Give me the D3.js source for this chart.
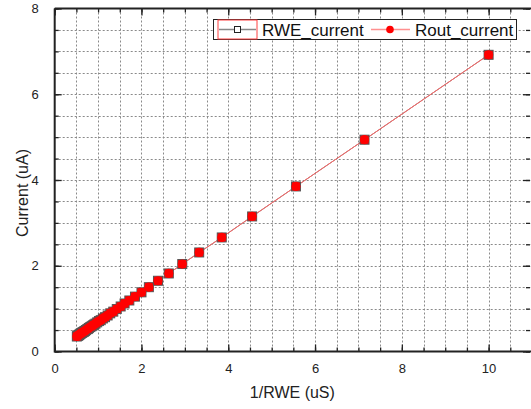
<!DOCTYPE html>
<html><head><meta charset="utf-8">
<script src="https://cdn.jsdelivr.net/npm/d3@7"></script>
<style>html,body{margin:0;padding:0;background:#fff;overflow:hidden}svg{display:block}</style>
</head><body>
<svg id="chart" width="531" height="409"></svg>
<script>
// 1/RWE (uS)
const invRwe = [10.00, 7.14, 5.56, 4.55, 3.85, 3.33, 2.94, 2.63, 2.38, 2.17, 2.00, 1.85, 1.72, 1.61, 1.52, 1.43, 1.35, 1.28, 1.22, 1.16, 1.11, 1.06, 1.02, 0.98, 0.94, 0.91, 0.88, 0.85, 0.82, 0.79, 0.77, 0.75, 0.72, 0.70, 0.68, 0.67, 0.65, 0.63, 0.62, 0.60, 0.59, 0.57, 0.56, 0.55, 0.54, 0.53, 0.52, 0.51];
// RWE_current (uA)
const rweCurrent = [6.92, 4.94, 3.85, 3.15, 2.66, 2.31, 2.04, 1.82, 1.65, 1.50, 1.38, 1.28, 1.19, 1.12, 1.05, 0.99, 0.93, 0.89, 0.84, 0.80, 0.77, 0.73, 0.71, 0.68, 0.65, 0.63, 0.61, 0.59, 0.57, 0.55, 0.53, 0.52, 0.50, 0.48, 0.47, 0.46, 0.45, 0.44, 0.43, 0.42, 0.41, 0.39, 0.39, 0.38, 0.37, 0.37, 0.36, 0.35];
// Rout_current (uA)
const routCurrent = [6.92, 4.94, 3.85, 3.15, 2.66, 2.31, 2.04, 1.82, 1.65, 1.50, 1.38, 1.28, 1.19, 1.12, 1.05, 0.99, 0.93, 0.89, 0.84, 0.80, 0.77, 0.73, 0.71, 0.68, 0.65, 0.63, 0.61, 0.59, 0.57, 0.55, 0.53, 0.52, 0.50, 0.48, 0.47, 0.46, 0.45, 0.44, 0.43, 0.42, 0.41, 0.39, 0.39, 0.38, 0.37, 0.37, 0.36, 0.35];
const xTicks = [0, 2, 4, 6, 8, 10];
const yTicks = [0, 2, 4, 6, 8];
const seriesNames = ["RWE_current", "Rout_current"];

const svg = d3.select("#chart");
const L = 54.7, R = 532, T = 8.5, B = 351.5;
const x = d3.scaleLinear().domain([0, 11]).range([L, R]);
const y = d3.scaleLinear().domain([0, 8]).range([B, T]);
const font = "Arial, 'Liberation Sans', sans-serif";

const minorX = d3.range(0, 11.01, 0.5);
const minorY = d3.range(0, 8.01, 0.5);

// grid
const grid = svg.append("g").attr("stroke", "#8a8a8a").attr("stroke-width", 1).attr("stroke-dasharray", "2,2");
grid.selectAll(".gx").data(minorX.filter(v => v > 0 && v < 11)).enter().append("line")
  .attr("x1", d => Math.round(x(d)) + 0.5).attr("x2", d => Math.round(x(d)) + 0.5).attr("y1", T).attr("y2", B);
grid.selectAll(".gy").data(minorY.filter(v => v > 0 && v < 8)).enter().append("line")
  .attr("y1", d => Math.round(y(d)) + 0.5).attr("y2", d => Math.round(y(d)) + 0.5).attr("x1", L).attr("x2", R);

// axes via d3 axis generators (ticks inward)
const axCol = "#222";
function styleAxis(g) { g.select(".domain").remove(); g.selectAll("line").attr("stroke", axCol).attr("stroke-width", 1.3); }
const bottomMinor = svg.append("g").attr("transform", `translate(0,${B})`)
  .call(d3.axisBottom(x).tickValues(minorX).tickSize(-4).tickFormat("")).call(styleAxis);
const bottomMajor = svg.append("g").attr("transform", `translate(0,${B})`)
  .call(d3.axisBottom(x).tickValues(xTicks).tickSize(-7).tickPadding(12).tickFormat(d3.format("d"))).call(styleAxis);
bottomMajor.selectAll("text").attr("font-family", font).attr("font-size", 13).attr("fill", "#222").attr("dy", "0.71em");
svg.append("g").attr("transform", `translate(0,${T})`)
  .call(d3.axisTop(x).tickValues(minorX).tickSize(-4).tickFormat("")).call(styleAxis);
svg.append("g").attr("transform", `translate(0,${T})`)
  .call(d3.axisTop(x).tickValues(xTicks).tickSize(-7).tickFormat("")).call(styleAxis);
svg.append("g").attr("transform", `translate(${L},0)`)
  .call(d3.axisLeft(y).tickValues(minorY).tickSize(-4).tickFormat("")).call(styleAxis);
const leftMajor = svg.append("g").attr("transform", `translate(${L},0)`)
  .call(d3.axisLeft(y).tickValues(yTicks).tickSize(-7).tickPadding(16).tickFormat(d3.format("d"))).call(styleAxis);
leftMajor.selectAll("text").attr("font-family", font).attr("font-size", 13).attr("fill", "#222");
svg.append("g").attr("transform", `translate(${R - 2},0)`)
  .call(d3.axisRight(y).tickValues(minorY).tickSize(-4).tickFormat("")).call(styleAxis);
svg.append("g").attr("transform", `translate(${R - 2},0)`)
  .call(d3.axisRight(y).tickValues(yTicks).tickSize(-7).tickFormat("")).call(styleAxis);

// frame
svg.append("path").attr("d", `M${L},${T}H${R}M${L},${T}V${B}H${R}`)
  .attr("fill", "none").attr("stroke", axCol).attr("stroke-width", 2);

// data
const pts1 = invRwe.map((v, i) => [v, rweCurrent[i]]);
const pts2 = invRwe.map((v, i) => [v, routCurrent[i]]);
const line = d3.line().x(d => x(d[0])).y(d => y(d[1]));
svg.append("path").datum(pts1).attr("d", line).attr("fill", "none").attr("stroke", "#777").attr("stroke-width", 1);
svg.append("path").datum(pts2).attr("d", line).attr("fill", "none").attr("stroke", "#ff6666").attr("stroke-width", 1);
svg.append("g").selectAll("rect").data(pts1).enter().append("rect")
  .attr("x", d => x(d[0]) - 4.5).attr("y", d => y(d[1]) - 4.5).attr("width", 9).attr("height", 9)
  .attr("fill", "#ff0000").attr("stroke", "#555").attr("stroke-width", 1);
svg.append("g").selectAll("circle").data(pts2).enter().append("circle")
  .attr("cx", d => x(d[0])).attr("cy", d => y(d[1])).attr("r", 4.6).attr("fill", "#ff0000");

// axis titles
svg.append("text").attr("x", (L + R) / 2 - 1).attr("y", 398).attr("text-anchor", "middle")
  .attr("font-family", font).attr("font-size", 16).attr("fill", "#222").text("1/RWE (uS)");
svg.append("text").attr("transform", `translate(28,193) rotate(-90)`).attr("text-anchor", "middle")
  .attr("font-family", font).attr("font-size", 16).attr("fill", "#222").text("Current (uA)");

// legend
const lg = svg.append("g");
lg.append("rect").attr("x", 213.5).attr("y", 19.5).attr("width", 303).attr("height", 20)
  .attr("fill", "#fff").attr("stroke", "#222").attr("stroke-width", 1);
lg.append("rect").attr("x", 218).attr("y", 20).attr("width", 39).attr("height", 19)
  .attr("fill", "none").attr("stroke", "#ff4040").attr("stroke-width", 1);
lg.append("line").attr("x1", 219).attr("x2", 256).attr("y1", 29.5).attr("y2", 29.5).attr("stroke", "#888").attr("stroke-width", 1.5);
lg.append("rect").attr("x", 234.5).attr("y", 26.5).attr("width", 6).attr("height", 6).attr("fill", "#fff").attr("stroke", "#222");
lg.append("text").attr("x", 262).attr("y", 36).attr("font-family", font).attr("font-size", 17).attr("fill", "#111").text(seriesNames[0]);
lg.append("line").attr("x1", 371).attr("x2", 410).attr("y1", 29.5).attr("y2", 29.5).attr("stroke", "#ff9090").attr("stroke-width", 1.5);
lg.append("circle").attr("cx", 390).attr("cy", 29.5).attr("r", 3.8).attr("fill", "#ff0000");
lg.append("text").attr("x", 415).attr("y", 36).attr("font-family", font).attr("font-size", 17).attr("fill", "#111").text(seriesNames[1]);
</script>
</body></html>
